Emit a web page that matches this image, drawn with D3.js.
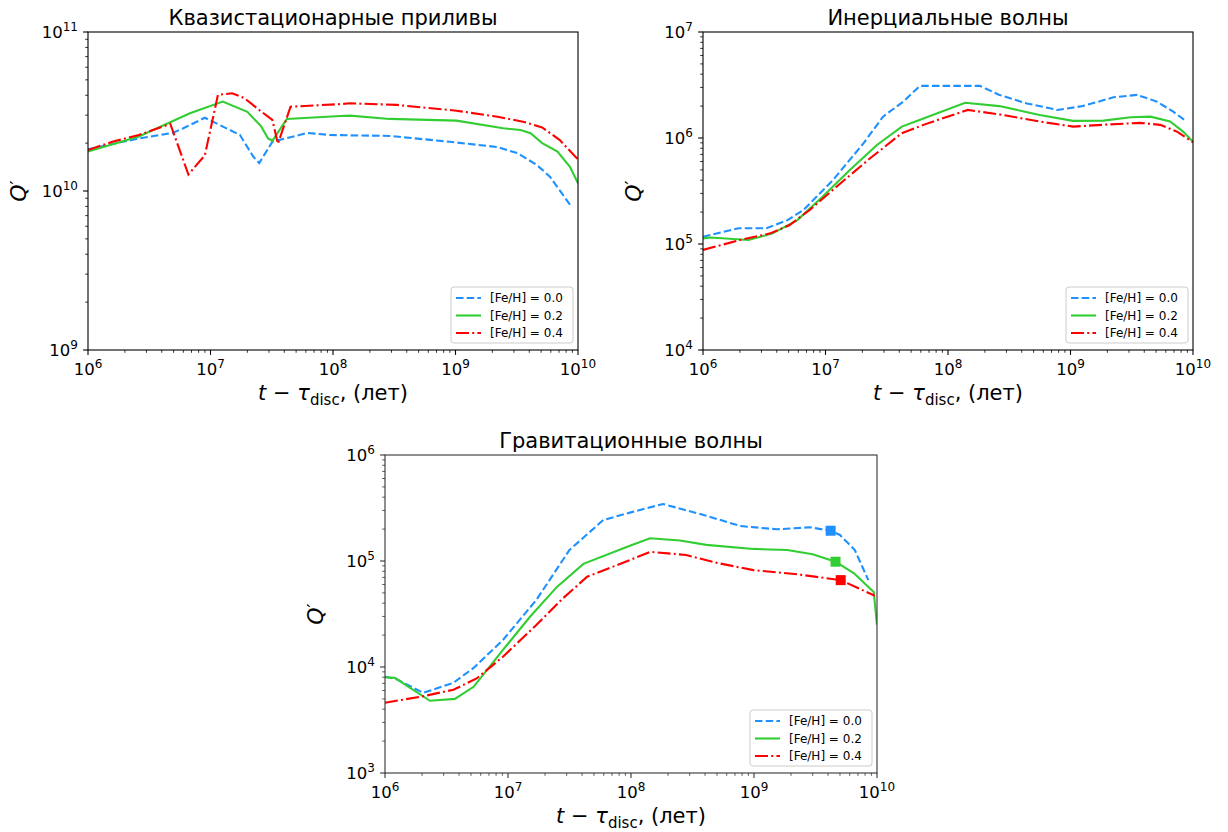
<!DOCTYPE html>
<html><head><meta charset="utf-8">
<script src="https://cdn.jsdelivr.net/npm/d3@7/dist/d3.min.js"></script>
<style>html,body{margin:0;padding:0;background:#fff;}svg{display:block;font-family:"DejaVu Sans",sans-serif;}</style>
</head><body>
<svg id="chart" width="1228" height="832"></svg>
<script>
// ---------- data ----------
const seriesLabels = ["[Fe/H] = 0.0", "[Fe/H] = 0.2", "[Fe/H] = 0.4"];
const panelTitles = ["Квазистационарные приливы", "Инерциальные волны", "Гравитационные волны"];
const xTickExps = [6, 7, 8, 9, 10];
const yTickExps1 = [9, 10, 11];
const yTickExps2 = [4, 5, 6, 7];
const yTickExps3 = [3, 4, 5, 6];

// Panel 1: quasi-static tides
const qsT0 = [1.0e6, 2.6e6, 4.9e6, 6.0e6, 9.0e6, 1.74e7, 2.24e7, 2.5e7, 3.2e7, 6.2e7, 9.4e7, 2.9e8, 9.0e8, 2.2e9, 3.2e9, 4.6e9, 5.9e9, 8.6e9];
const qsQ0 = [1.83e10, 2.14e10, 2.32e10, 2.48e10, 2.89e10, 2.25e10, 1.64e10, 1.5e10, 2.04e10, 2.32e10, 2.25e10, 2.22e10, 2.04e10, 1.89e10, 1.73e10, 1.46e10, 1.23e10, 8.2e9];
const qsT2 = [1.0e6, 2.6e6, 6.8e6, 1.26e7, 2.0e7, 2.6e7, 2.95e7, 3.2e7, 4.2e7, 1.15e8, 1.38e8, 2.9e8, 1.02e9, 2.45e9, 3.4e9, 4.1e9, 5.1e9, 6.8e9, 8.6e9, 1.0e10];
const qsQ2 = [1.77e10, 2.2e10, 3.08e10, 3.65e10, 3.15e10, 2.54e10, 2.14e10, 2.07e10, 2.84e10, 2.96e10, 2.98e10, 2.84e10, 2.77e10, 2.48e10, 2.42e10, 2.31e10, 2.0e10, 1.77e10, 1.42e10, 1.12e10];
const qsT4 = [1.0e6, 1.58e6, 2.6e6, 4.7e6, 6.6e6, 9.0e6, 1.15e7, 1.5e7, 1.9e7, 2.5e7, 3.2e7, 3.55e7, 4.5e7, 1.15e8, 1.38e8, 3.3e8, 1.02e9, 2.2e9, 3.55e9, 5.1e9, 7.1e9, 1.0e10];
const qsQ4 = [1.81e10, 2.04e10, 2.25e10, 2.64e10, 1.27e10, 1.68e10, 4.02e10, 4.12e10, 3.83e10, 3.23e10, 2.8e10, 1.98e10, 3.39e10, 3.52e10, 3.56e10, 3.48e10, 3.2e10, 2.93e10, 2.73e10, 2.51e10, 2.09e10, 1.58e10];

// Panel 2: inertial waves
const inT0 = [1.0e6, 1.95e6, 3.3e6, 4.9e6, 6.6e6, 1.15e7, 2.04e7, 2.95e7, 4.3e7, 5.9e7, 1.05e8, 1.82e8, 2.63e8, 4.4e8, 7.8e8, 1.26e9, 2.24e9, 3.5e9, 5.1e9, 6.9e9, 8.5e9];
const inQ0 = [1.17e5, 1.41e5, 1.41e5, 1.68e5, 2.09e5, 4.0e5, 8.9e5, 1.59e6, 2.2e6, 3.1e6, 3.1e6, 3.1e6, 2.55e6, 2.12e6, 1.84e6, 2.0e6, 2.42e6, 2.55e6, 2.2e6, 1.77e6, 1.48e6];
const inT2 = [1.0e6, 1.15e6, 2.35e6, 3.7e6, 5.9e6, 9.5e6, 1.58e7, 2.63e7, 4.2e7, 6.3e7, 1.38e8, 2.63e8, 5.6e8, 1.05e9, 1.86e9, 3.1e9, 4.5e9, 6.5e9, 8.3e9, 1.0e10];
const inQ2 = [1.13e5, 1.15e5, 1.09e5, 1.26e5, 1.68e5, 2.8e5, 5.0e5, 8.6e5, 1.28e6, 1.53e6, 2.15e6, 2.0e6, 1.65e6, 1.45e6, 1.46e6, 1.57e6, 1.59e6, 1.43e6, 1.15e6, 9.2e5];
const inT4 = [1.0e6, 2.0e6, 3.55e6, 5.1e6, 7.4e6, 1.23e7, 2.3e7, 4.2e7, 6.3e7, 1.45e8, 2.63e8, 5.6e8, 1.05e9, 2.0e9, 3.7e9, 5.4e9, 7.4e9, 1.0e10];
const inQ4 = [8.8e4, 1.09e5, 1.26e5, 1.51e5, 2.09e5, 3.47e5, 6.4e5, 1.11e6, 1.33e6, 1.84e6, 1.67e6, 1.43e6, 1.28e6, 1.34e6, 1.39e6, 1.33e6, 1.15e6, 9.1e5];

// Panel 3: gravity waves
const grT0 = [1.0e6, 1.25e6, 2.04e6, 3.6e6, 5.25e6, 9.1e6, 1.7e7, 3.16e7, 5.96e7, 9.8e7, 1.82e8, 3.9e8, 7.7e8, 1.53e9, 2.85e9, 4.2e9, 5.0e9, 6.6e9, 8.5e9];
const grQ0 = [8.1e3, 7.65e3, 5.7e3, 7.1e3, 9.8e3, 1.8e4, 4.29e4, 1.27e5, 2.44e5, 2.86e5, 3.45e5, 2.72e5, 2.14e5, 1.99e5, 2.08e5, 1.93e5, 1.76e5, 1.27e5, 6.6e4];
const grT2 = [1.0e6, 1.2e6, 2.32e6, 3.7e6, 5.25e6, 9.1e6, 1.51e7, 2.5e7, 4.1e7, 9.8e7, 1.43e8, 2.5e8, 4.1e8, 9.9e8, 1.86e9, 3.0e9, 4.6e9, 6.5e9, 9.4e9, 1.0e10];
const grQ2 = [8.0e3, 7.9e3, 4.8e3, 5.0e3, 6.5e3, 1.45e4, 2.98e4, 5.7e4, 9.4e4, 1.39e5, 1.64e5, 1.56e5, 1.42e5, 1.3e5, 1.27e5, 1.16e5, 9.85e4, 7.65e4, 5.1e4, 2.5e4];
const grT4 = [1.0e6, 2.04e6, 3.6e6, 5.56e6, 9.1e6, 1.7e7, 2.8e7, 4.4e7, 9.8e7, 1.43e8, 2.8e8, 5.0e8, 9.9e8, 2.24e9, 5.07e9, 9.6e9];
const grQ4 = [4.6e3, 5.3e3, 6.1e3, 7.8e3, 1.25e4, 2.49e4, 4.45e4, 7.1e4, 1.02e5, 1.22e5, 1.14e5, 9.6e4, 8.2e4, 7.5e4, 6.6e4, 4.7e4];
// square markers (gravity waves)
const grMarkT = [4.2e9, 4.6e9, 5.07e9];
const grMarkQ = [1.93e5, 9.85e4, 6.6e4];

// ---------- styles ----------
const colors = ["#1e90ff", "#32cd32", "#ff0000"];
const dashes = ["7.5,3.2", null, "13,3.2,2,3.2"];

const svg = d3.select("#chart");

function drawPanel(cfg) {
  const {left, right, top, bottom, yExps, title, series, axisColor} = cfg;
  const x = d3.scaleLog().domain([1e6, 1e10]).range([left, right]);
  const y = d3.scaleLog().domain([Math.pow(10, yExps[0]), Math.pow(10, yExps[yExps.length - 1])]).range([bottom, top]);
  const g = svg.append("g");

  const cid = "clip" + left + "_" + top;
  g.append("clipPath").attr("id", cid).append("rect")
    .attr("x", left).attr("y", top).attr("width", right - left).attr("height", bottom - top);

  const line = d3.line().x(d => x(d[0])).y(d => y(d[1]));
  const lg = g.append("g").attr("clip-path", `url(#${cid})`);
  series.forEach((s, i) => {
    const pts = s.t.map((t, k) => [t, s.q[k]]);
    lg.append("path").attr("d", line(pts)).attr("fill", "none")
      .attr("stroke", colors[i]).attr("stroke-width", 2.1)
      .attr("stroke-dasharray", dashes[i]);
  });
  if (cfg.markers) {
    cfg.markers.t.forEach((t, i) => {
      g.append("rect").attr("x", x(t) - 5).attr("y", y(cfg.markers.q[i]) - 5)
        .attr("width", 10).attr("height", 10).attr("fill", colors[i]);
    });
  }

  g.append("rect").attr("x", left).attr("y", top).attr("width", right - left).attr("height", bottom - top)
    .attr("fill", "none").attr("stroke", axisColor).attr("stroke-width", 1.1);

  // x ticks
  const xMinor = x.ticks().filter(v => !xTickExps.some(e => Math.abs(Math.log10(v) - e) < 1e-6));
  xMinor.forEach(v => {
    g.append("line").attr("x1", x(v)).attr("x2", x(v)).attr("y1", bottom).attr("y2", bottom + 2.8)
      .attr("stroke", axisColor).attr("stroke-width", 0.8);
  });
  xTickExps.forEach(e => {
    const v = Math.pow(10, e);
    g.append("line").attr("x1", x(v)).attr("x2", x(v)).attr("y1", bottom).attr("y2", bottom + 4.9)
      .attr("stroke", axisColor).attr("stroke-width", 1.1);
    const t = g.append("text").attr("x", x(v)).attr("y", bottom + 25).attr("text-anchor", "middle")
      .attr("font-size", 16.5).attr("fill", "#000");
    t.append("tspan").text("10");
    t.append("tspan").attr("dy", -7.5).attr("font-size", 12).text(String(e));
  });
  // y ticks
  const yMinor = y.ticks().filter(v => !yExps.some(e => Math.abs(Math.log10(v) - e) < 1e-6));
  yMinor.forEach(v => {
    g.append("line").attr("x1", left - 2.8).attr("x2", left).attr("y1", y(v)).attr("y2", y(v))
      .attr("stroke", axisColor).attr("stroke-width", 0.8);
  });
  yExps.forEach(e => {
    const v = Math.pow(10, e);
    g.append("line").attr("x1", left - 4.9).attr("x2", left).attr("y1", y(v)).attr("y2", y(v))
      .attr("stroke", axisColor).attr("stroke-width", 1.1);
    const t = g.append("text").attr("x", left - 10).attr("y", y(v) + 6).attr("text-anchor", "end")
      .attr("font-size", 16.5).attr("fill", "#000");
    t.append("tspan").text("10");
    t.append("tspan").attr("dy", -7.5).attr("font-size", 12).text(String(e));
  });

  // title
  g.append("text").attr("x", (left + right) / 2).attr("y", top - 7).attr("text-anchor", "middle")
    .attr("font-size", 21).attr("fill", "#000").text(title);

  // x label
  const xl = g.append("text").attr("x", (left + right) / 2).attr("y", bottom + 50).attr("text-anchor", "middle")
    .attr("font-size", 21).attr("fill", "#000");
  xl.append("tspan").attr("font-style", "italic").text("t");
  xl.append("tspan").text(" − ");
  xl.append("tspan").attr("font-style", "italic").text("τ");
  xl.append("tspan").attr("dy", 4.5).attr("font-size", 15).text("disc");
  xl.append("tspan").attr("dy", -4.5).text(", (лет)");

  // y label
  const yl = g.append("text").attr("transform", `translate(${left - 62},${(top + bottom) / 2}) rotate(-90)`)
    .attr("text-anchor", "middle").attr("font-size", 22).attr("fill", "#000");
  yl.append("tspan").attr("font-style", "italic").text("Q");
  yl.append("tspan").attr("dy", -3).attr("font-size", 18).text("′");

  // legend
  const lw = 122, lh = 56;
  const lx = right - 5 - lw, ly = bottom - 7 - lh;
  const leg = g.append("g");
  leg.append("rect").attr("x", lx).attr("y", ly).attr("width", lw).attr("height", lh).attr("rx", 3)
    .attr("fill", "#fff").attr("fill-opacity", 0.8).attr("stroke", "#cccccc").attr("stroke-width", 1);
  seriesLabels.forEach((lab, i) => {
    const yy = ly + 11 + i * 17.5;
    leg.append("line").attr("x1", lx + 5).attr("x2", lx + 30).attr("y1", yy).attr("y2", yy)
      .attr("stroke", colors[i]).attr("stroke-width", 2.1).attr("stroke-dasharray", dashes[i]);
    leg.append("text").attr("x", lx + 39).attr("y", yy + 4).attr("font-size", 12).attr("fill", "#000").text(lab);
  });
}

drawPanel({left: 88, right: 578, top: 32, bottom: 350, yExps: yTickExps1, title: panelTitles[0], axisColor: "#000",
  series: [{t: qsT0, q: qsQ0}, {t: qsT2, q: qsQ2}, {t: qsT4, q: qsQ4}]});
drawPanel({left: 703, right: 1193, top: 32, bottom: 350, yExps: yTickExps2, title: panelTitles[1], axisColor: "#000",
  series: [{t: inT0, q: inQ0}, {t: inT2, q: inQ2}, {t: inT4, q: inQ4}]});
drawPanel({left: 385, right: 877, top: 455, bottom: 773, yExps: yTickExps3, title: panelTitles[2], axisColor: "#333",
  series: [{t: grT0, q: grQ0}, {t: grT2, q: grQ2}, {t: grT4, q: grQ4}],
  markers: {t: grMarkT, q: grMarkQ}});
</script>
</body></html>
